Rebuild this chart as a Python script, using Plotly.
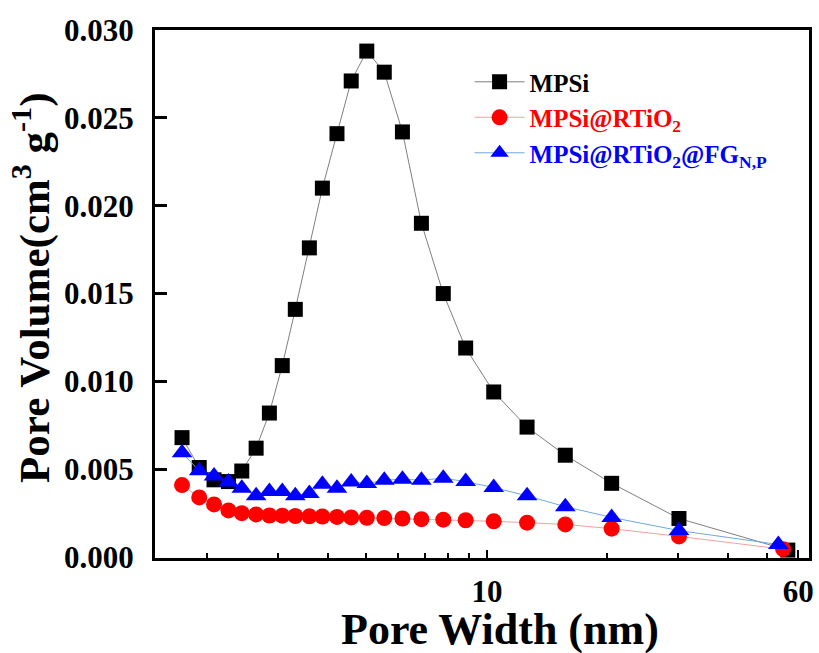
import plotly.graph_objects as go

# Pore width (nm) for each series
x_mpsi = [1.73, 1.91, 2.08, 2.26, 2.44, 2.65, 2.86, 3.08, 3.32, 3.60, 3.88, 4.22, 4.58,
          5.01, 5.54, 6.15, 6.86, 7.78, 8.85, 10.4, 12.6, 15.7, 20.5, 30.2, 56.5]
x_rtio2 = [1.73, 1.91, 2.08, 2.26, 2.44, 2.65, 2.86, 3.08, 3.32, 3.60, 3.88, 4.22, 4.58,
           5.01, 5.54, 6.15, 6.86, 7.78, 8.85, 10.4, 12.6, 15.7, 20.5, 30.2, 55.0]
x_fg = [1.73, 1.91, 2.08, 2.26, 2.44, 2.65, 2.86, 3.08, 3.32, 3.60, 3.88, 4.22, 4.58,
        5.01, 5.54, 6.15, 6.86, 7.78, 8.85, 10.4, 12.6, 15.7, 20.5, 30.2, 53.5]

# Pore volume (cm3 g-1)
y_mpsi = [0.0068, 0.0051, 0.0044, 0.0043, 0.0049, 0.0062, 0.0082, 0.0109, 0.0141, 0.0176,
          0.0210, 0.0241, 0.0271, 0.0288, 0.0276, 0.0242, 0.0190, 0.0150, 0.0119, 0.0094,
          0.0074, 0.0058, 0.0042, 0.0022, 0.0004]
y_rtio2 = [0.0041, 0.00340, 0.00300, 0.00266, 0.00250, 0.00243, 0.00237, 0.00236, 0.00234,
           0.00232, 0.00231, 0.00229, 0.00226, 0.00224, 0.00222, 0.00220, 0.00216, 0.00213,
           0.00210, 0.00204, 0.00196, 0.00186, 0.00162, 0.00118, 0.00045]
y_fg = [0.00594, 0.00491, 0.00462, 0.00428, 0.00392, 0.00349, 0.00374, 0.00374, 0.00349,
        0.00362, 0.00415, 0.00392, 0.00428, 0.00419, 0.00438, 0.00443, 0.00438, 0.00449,
        0.00430, 0.00396, 0.00349, 0.00287, 0.00226, 0.00151, 0.00072]

names = ["<b>MPSi</b>",
         "<b><span style='color:#ff0000'>MPSi@RTiO<sub>2</sub></span></b>",
         "<b><span style='color:#0000ff'>MPSi@RTiO<sub>2</sub>@FG<sub>N,P</sub></span></b>"]

x_tickvals = [10, 60]
x_ticktext = ["10", "60"]
x_minor = [2, 3, 4, 5, 6, 7, 8, 9, 20, 30, 40, 50]
y_tickvals = [0.000, 0.005, 0.010, 0.015, 0.020, 0.025, 0.030]
y_ticktext = ["0.000", "0.005", "0.010", "0.015", "0.020", "0.025", "0.030"]

FONT = "Liberation Serif"

fig = go.Figure()
fig.add_trace(go.Scatter(x=x_mpsi, y=y_mpsi, name=names[0], mode="lines+markers",
                         line=dict(color="#7f7f7f", width=1),
                         marker=dict(symbol="square", size=15, color="#000000")))
fig.add_trace(go.Scatter(x=x_rtio2, y=y_rtio2, name=names[1], mode="lines+markers",
                         line=dict(color="#f4a0a0", width=1),
                         marker=dict(symbol="circle", size=16, color="#ff0000")))
fig.add_trace(go.Scatter(x=x_fg, y=y_fg, name=names[2], mode="lines+markers",
                         line=dict(color="#6fa8e0", width=1),
                         marker=dict(symbol="triangle-up", size=18, color="#0000ff")))

fig.update_layout(
    width=819, height=653,
    margin=dict(l=155, r=5, t=30, b=95),
    paper_bgcolor="white", plot_bgcolor="white",
    font=dict(family=FONT, size=30, color="black"),
    showlegend=True,
    legend=dict(x=0.481, y=0.945, xanchor="left", yanchor="top",
                bgcolor="rgba(0,0,0,0)", font=dict(family=FONT, size=25, color="black"),
                itemwidth=50, tracegroupgap=0),
)
fig.update_xaxes(
    type="log", range=[0.1705, 1.805],
    showline=True, linewidth=3, linecolor="black", mirror=True,
    showgrid=False, zeroline=False,
    tickmode="array", tickvals=x_tickvals, ticktext=x_ticktext,
    ticks="inside", ticklen=8, tickwidth=2, tickcolor="black",
    ticklabelstandoff=4,
    tickfont=dict(family=FONT, size=31, color="black", weight="bold"),
    minor=dict(tickmode="array", tickvals=x_minor, ticks="inside", ticklen=5,
               tickwidth=2, tickcolor="black", showgrid=False),
)
fig.update_yaxes(
    range=[-0.00005, 0.0300],
    showline=True, linewidth=3, linecolor="black", mirror=True,
    showgrid=False, zeroline=False,
    tickmode="array", tickvals=y_tickvals, ticktext=y_ticktext,
    ticks="inside", ticklen=12, tickwidth=3, tickcolor="black",
    ticklabelstandoff=12,
    tickfont=dict(family=FONT, size=31, color="black", weight="bold"),
)

fig.add_annotation(text="<b>Pore Width (nm)</b>", xref="paper", yref="paper",
                   x=(503 - 155) / 659, y=-(630 - 558) / 528, xanchor="center", yanchor="middle",
                   showarrow=False, font=dict(family=FONT, size=44, color="black"))
fig.add_annotation(text="<b>Pore Volume(cm<sup>3</sup> g<sup>-1</sup>)</b>", xref="paper", yref="paper",
                   x=-(155 - 30) / 659, y=(558 - 288) / 528, xanchor="center", yanchor="middle",
                   textangle=-90, showarrow=False, font=dict(family=FONT, size=43, color="black"))

fig.write_html("out.html")
